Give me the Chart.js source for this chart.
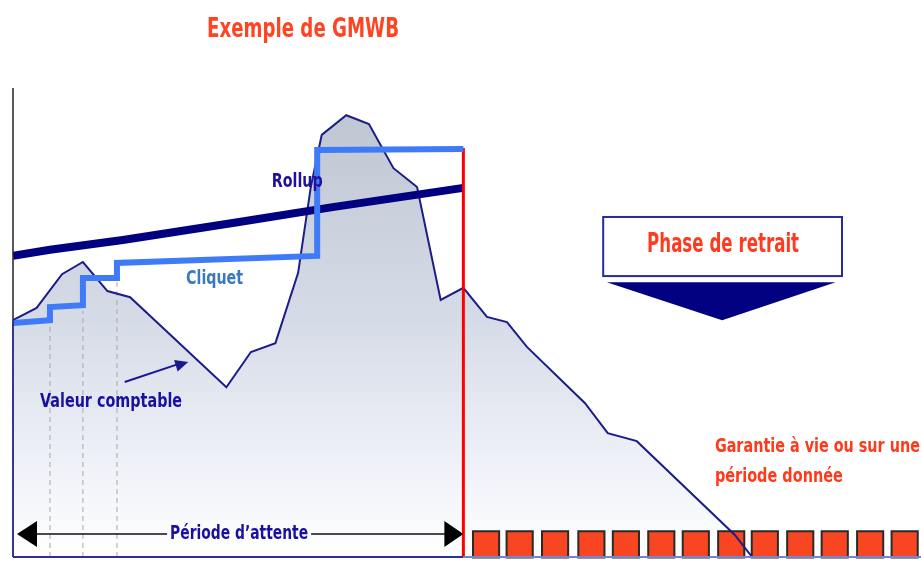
<!DOCTYPE html>
<html lang="fr">
<head>
<meta charset="utf-8">
<title>Exemple de GMWB</title>
<script src="https://cdn.jsdelivr.net/npm/chart.js@4.4.1/dist/chart.umd.min.js"></script>
<style>
  html, body { margin: 0; padding: 0; background: #fff; }
  #wrap { width: 921px; height: 561px; position: relative; }
</style>
</head>
<body>
<div id="wrap"><canvas id="gmwbChart"></canvas></div>
<script>
// ─── Data (x: time 0–100, y: value 0–100) ─────────────────
const valeurX = [0, 2.6, 5.4, 7.7, 10.4, 12.9, 23.5, 26.2, 28.9, 31.4, 32.8, 34.0, 36.7, 39.2, 41.9, 44.5, 47.1, 49.6, 52.2, 54.4, 56.6, 63.0, 65.5, 68.7, 79.5, 81.4];
const valeurY = [50.5, 53.1, 60.3, 62.9, 56.7, 55.4, 36.2, 43.7, 45.6, 60.6, 78.9, 90.0, 94.2, 92.3, 82.9, 78.9, 54.8, 57.4, 51.2, 50.1, 44.8, 32.8, 26.4, 24.7, 4.7, 0];

const cliquetX = [0, 4.07, 4.07, 7.7, 7.7, 11.45, 11.45, 33.5, 33.5, 49.6];
const cliquetY = [49.9, 50.5, 53.3, 53.7, 59.5, 59.5, 62.7, 64.2, 86.8, 87.0];

const rollupX = [0, 4.07, 12.1, 24.2, 35.2, 49.6];
const rollupY = [64.2, 65.5, 67.6, 71.2, 74.6, 78.7];

const resetX   = [4.07, 7.7, 11.45];     // dates de cliquet (pointillés)
const resetTop = [49.4, 52.5, 58.6];

const retraitX   = 49.6;                 // début de la phase de retrait
const retraitTop = 87.2;

const paiementX = [52.1, 55.8, 59.7, 63.7, 67.5, 71.4, 75.2, 79.1, 82.8, 86.7, 90.5, 94.4, 98.2];
const paiementY = 2.7;

const FONT = '"Liberation Sans Narrow", "DejaVu Sans Condensed", "Liberation Sans", sans-serif';

const zip = (xs, ys) => xs.map((x, i) => ({ x, y: ys[i] }));

// ─── Helpers ──────────────────────────────────────────────
function fitText(ctx, text, x, y, size, width, color, align = 'center') {
  ctx.save();
  ctx.font = `bold ${size}px ${FONT}`;
  ctx.fillStyle = color;
  ctx.textBaseline = 'middle';
  ctx.textAlign = align;
  const w = ctx.measureText(text).width;
  ctx.translate(x, y);
  ctx.scale(width ? width / w : 1, 1);
  ctx.fillText(text, 0, 0);
  ctx.restore();
}

function arrowHead(ctx, tx, ty, fx, fy, len, half, color) {
  const a = Math.atan2(ty - fy, tx - fx);
  ctx.save();
  ctx.translate(tx, ty);
  ctx.rotate(a);
  ctx.fillStyle = color;
  ctx.beginPath();
  ctx.moveTo(0, 0);
  ctx.lineTo(-len, -half);
  ctx.lineTo(-len, half);
  ctx.closePath();
  ctx.fill();
  ctx.restore();
}

// ─── Annotations plugin ───────────────────────────────────
const gmwbDecor = {
  id: 'gmwbDecor',
  afterDatasetsDraw(chart) {
    const { ctx, chartArea: a, scales: { x, y } } = chart;
    const px = v => x.getPixelForValue(v);
    const py = v => y.getPixelForValue(v);

    // axes
    ctx.save();
    ctx.lineWidth = 1.5;
    ctx.strokeStyle = '#222';
    ctx.beginPath(); ctx.moveTo(a.left, a.top); ctx.lineTo(a.left, a.bottom); ctx.stroke();
    ctx.strokeStyle = '#2a2f9e';
    ctx.beginPath(); ctx.moveTo(a.left, py(valeurY[0])); ctx.lineTo(a.left, a.bottom); ctx.stroke();
    ctx.lineWidth = 2;
    ctx.strokeStyle = '#2a2f9e';
    ctx.beginPath(); ctx.moveTo(a.left, a.bottom); ctx.lineTo(px(retraitX), a.bottom); ctx.stroke();
    ctx.strokeStyle = '#7c80c4';
    ctx.beginPath(); ctx.moveTo(px(retraitX), a.bottom); ctx.lineTo(chart.width, a.bottom); ctx.stroke();
    ctx.restore();

    // title
    fitText(ctx, 'Exemple de GMWB', 303, 30, 27, 192, '#ff4422');

    // series labels
    fitText(ctx, 'Rollup', px(31.3), py(80.0), 19, 51, '#2010a0');
    fitText(ctx, 'Cliquet', px(22.2), py(59.3), 19, 57, '#3a78c0');
    fitText(ctx, 'Valeur comptable', px(10.8), py(33.0), 20, 142, '#1a10a0');

    // arrow to the account value
    ctx.save();
    ctx.strokeStyle = '#1a1a90';
    ctx.lineWidth = 2;
    ctx.beginPath(); ctx.moveTo(px(12.3), py(37.3)); ctx.lineTo(px(18.6), py(41.4)); ctx.stroke();
    ctx.restore();
    arrowHead(ctx, px(19.3), py(41.6), px(12.3), py(37.3), 13, 6, '#1a1a90');

    // waiting period double arrow
    const ay = py(4.9), l = px(0.44), r = px(retraitX), tc = px(24.9);
    ctx.save();
    ctx.strokeStyle = '#111';
    ctx.lineWidth = 1.5;
    ctx.beginPath();
    ctx.moveTo(l + 10, ay); ctx.lineTo(tc - 72, ay);
    ctx.moveTo(tc + 72, ay); ctx.lineTo(r - 10, ay);
    ctx.stroke();
    ctx.restore();
    arrowHead(ctx, l, ay, l + 30, ay, 20, 13, '#000');
    arrowHead(ctx, r, ay, r - 30, ay, 19, 13, '#000');
    fitText(ctx, 'Période d\u2019attente', tc, ay, 20, 138, '#1a10a0');

    // withdrawal phase box + chevron
    const bx0 = px(65.0), bx1 = px(91.3), by0 = py(72.5), by1 = py(59.9);
    ctx.save();
    ctx.fillStyle = '#fff';
    ctx.fillRect(bx0, by0, bx1 - bx0, by1 - by0);
    ctx.strokeStyle = '#2a2aa0';
    ctx.lineWidth = 2;
    ctx.strokeRect(bx0, by0, bx1 - bx0, by1 - by0);
    ctx.fillStyle = '#000080';
    ctx.beginPath();
    ctx.moveTo(px(65.4), py(58.6));
    ctx.lineTo(px(90.6), py(58.6));
    ctx.lineTo(px(78.1), py(50.5));
    ctx.closePath();
    ctx.fill();
    ctx.restore();
    fitText(ctx, 'Phase de retrait', px(78.2), py(66.5), 26, 152, '#ff3b1f');

    // guarantee note
    fitText(ctx, 'Garantie à vie ou sur une', px(77.3), py(23.5), 20, 205, '#ff3a1a', 'left');
    fitText(ctx, 'période donnée', px(77.3), py(17.1), 20, 128, '#ff3a1a', 'left');
  }
};

// ─── Chart ────────────────────────────────────────────────
function renderGmwbChart() {
  const el = document.getElementById('gmwbChart');
  if (!el) return;

  const resetLines = [];
  resetX.forEach((x, i) => {
    resetLines.push({ x, y: 0 }, { x, y: resetTop[i] }, { x, y: null });
  });

  new Chart(el, {
    type: 'line',
    data: {
      datasets: [
        {
          label: 'Cliquet',
          data: zip(cliquetX, cliquetY),
          borderColor: '#3f7bf6',
          borderWidth: 6,
          borderJoinStyle: 'miter',
          pointRadius: 0,
          fill: false,
        },
        {
          label: 'Début retrait',
          data: [{ x: retraitX, y: 0 }, { x: retraitX, y: retraitTop }],
          borderColor: '#ff0000',
          borderWidth: 3,
          pointRadius: 0,
          fill: false,
        },
        {
          label: 'Rollup',
          data: zip(rollupX, rollupY),
          borderColor: '#000080',
          borderWidth: 8,
          pointRadius: 0,
          fill: false,
        },
        {
          label: 'Valeur comptable',
          data: zip(valeurX, valeurY),
          borderColor: '#1c1c8a',
          borderWidth: 2,
          pointRadius: 0,
          fill: 'origin',
          backgroundColor: c => {
            const area = c.chart.chartArea;
            if (!area) return 'rgba(200,206,216,0.6)';
            const g = c.chart.ctx.createLinearGradient(0, area.top, 0, area.bottom);
            g.addColorStop(0, '#bcc4d0');
            g.addColorStop(0.5, '#d6dce7');
            g.addColorStop(0.8, '#eff1f8');
            g.addColorStop(1, '#ffffff');
            return g;
          },
        },
        {
          label: 'Paiements',
          data: paiementX.map(x => ({ x, y: paiementY })),
          showLine: false,
          pointStyle: 'rect',
          pointRadius: 18.5,
          pointBackgroundColor: '#f84622',
          pointBorderColor: '#2a2a2a',
          pointBorderWidth: 2,
          clip: false,
        },
        {
          label: 'Dates de cliquet',
          data: resetLines,
          borderColor: '#a8a8a8',
          borderWidth: 1,
          borderDash: [5, 4],
          pointRadius: 0,
          spanGaps: false,
          fill: false,
        },
      ],
    },
    options: {
      responsive: true,
      maintainAspectRatio: false,
      animation: false,
      layout: { autoPadding: false, padding: { left: 13, top: 88, right: 0, bottom: 4 } },
      elements: { line: { tension: 0 } },
      plugins: {
        legend: { display: false },
        tooltip: { enabled: false },
        filler: { drawTime: 'beforeDatasetsDraw' },
      },
      scales: {
        x: { type: 'linear', min: 0, max: 100, display: false },
        y: { type: 'linear', min: 0, max: 100, display: false },
      },
    },
    plugins: [gmwbDecor],
  });
}

document.addEventListener('DOMContentLoaded', renderGmwbChart);
</script>
</body>
</html>
